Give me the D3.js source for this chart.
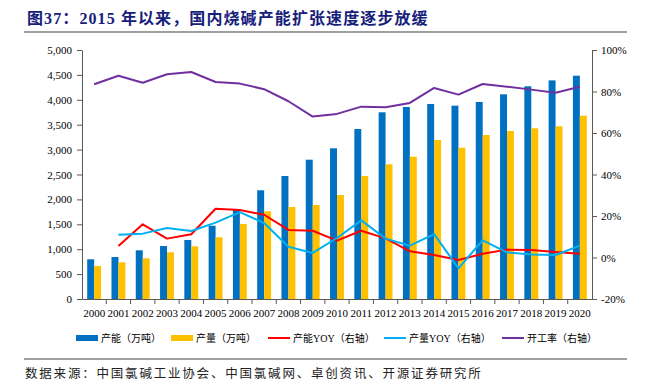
<!DOCTYPE html>
<html>
<head>
<meta charset="utf-8">
<script src="https://cdn.jsdelivr.net/npm/d3@7"></script>
<style>
  html, body { margin: 0; padding: 0; background: #fff; }
  svg { display: block; }
</style>
</head>
<body>
<svg id="chart" width="651" height="390"></svg>
<script>
const years = ["2000","2001","2002","2003","2004","2005","2006","2007","2008","2009","2010","2011","2012","2013","2014","2015","2016","2017","2018","2019","2020"];
const capacity = [797, 843, 978, 1064, 1185, 1472, 1787, 2183, 2470, 2797, 3026, 3414, 3749, 3855, 3916, 3882, 3956, 4110, 4271, 4390, 4484];
const production = [663, 737, 817, 938, 1058, 1239, 1506, 1761, 1847, 1888, 2088, 2470, 2705, 2857, 3193, 3038, 3293, 3373, 3428, 3468, 3681];
const capacityYoY = [null, 5.5, 16.0, 9.1, 11.2, 23.5, 22.9, 20.6, 13.3, 12.9, 8.1, 12.9, 9.2, 3.0, 1.2, -1.2, 1.8, 3.8, 3.6, 2.7, 1.8];
const productionYoY = [null, 11.0, 11.5, 14.2, 12.8, 16.8, 21.9, 16.6, 5.2, 2.2, 9.4, 17.9, 9.1, 5.7, 11.3, -5.2, 8.3, 2.5, 1.5, 1.2, 5.7];
const utilization = [83.5, 87.6, 84.2, 88.3, 89.4, 84.6, 83.8, 81.1, 75.3, 67.9, 69.2, 72.7, 72.4, 74.5, 81.7, 78.5, 83.6, 82.3, 80.9, 79.4, 82.3];
const leftTicks = [0, 500, 1000, 1500, 2000, 2500, 3000, 3500, 4000, 4500, 5000];
const rightTicks = [-20, 0, 20, 40, 60, 80, 100];
const legendLabels = ["产能（万吨）", "产量（万吨）", "产能YOY（右轴）", "产量YOY（右轴）", "开工率（右轴）"];
const titleText = "图37：2015 年以来，国内烧碱产能扩张速度逐步放缓";
const sourceText = "数据来源：中国氯碱工业协会、中国氯碱网、卓创资讯、开源证券研究所";

const colors = { cap: "#0070C0", prod: "#FFC000", capYoY: "#FF0000", prodYoY: "#00B0F0", util: "#7030A0" };
const numFont = "'Liberation Serif', 'Noto Sans CJK SC', serif";
const cjkFont = "'Liberation Serif', 'Noto Sans CJK SC', sans-serif";

const svg = d3.select("#chart");
const L = 82, R = 592, T = 50, B = 299;

// Title
svg.append("text").attr("x", 27).attr("y", 24)
  .attr("font-family", cjkFont).attr("font-weight", "bold").attr("font-size", 16)
  .attr("letter-spacing", 1.1)
  .attr("fill", "#16207a").text(titleText);
svg.append("line").attr("x1", 24).attr("x2", 627).attr("y1", 32).attr("y2", 32)
  .attr("stroke", "#7f7f7f").attr("stroke-width", 1.5);

// Scales
const x = d3.scaleBand().domain(years).range([L, R]).paddingInner(0).paddingOuter(0);
const bw = x.bandwidth();
const x1 = d3.scaleBand().domain(["cap","prod"]).range([5.2, bw - 5.2]).padding(0);
const yL = d3.scaleLinear().domain([0, 5000]).range([B, T]);
const yR = d3.scaleLinear().domain([-20, 100]).range([B, T]);

// Bars
const g = svg.append("g");
g.selectAll("rect.cap").data(years).join("rect").attr("class","cap")
  .attr("x", d => x(d) + x1("cap")).attr("width", x1.bandwidth())
  .attr("y", (d,i) => yL(capacity[i])).attr("height", (d,i) => yL(0) - yL(capacity[i]))
  .attr("fill", colors.cap);
g.selectAll("rect.prod").data(years).join("rect").attr("class","prod")
  .attr("x", d => x(d) + x1("prod")).attr("width", x1.bandwidth())
  .attr("y", (d,i) => yL(production[i])).attr("height", (d,i) => yL(0) - yL(production[i]))
  .attr("fill", colors.prod);

// Lines
function drawLine(arr, color) {
  const line = d3.line()
    .defined(d => d[1] !== null)
    .x(d => x(d[0]) + bw / 2)
    .y(d => yR(d[1]));
  g.append("path").datum(years.map((y, i) => [y, arr[i]]))
    .attr("d", line).attr("fill", "none").attr("stroke", color)
    .attr("stroke-width", 2).attr("stroke-linejoin", "round");
}
drawLine(utilization, colors.util);
drawLine(capacityYoY, colors.capYoY);
drawLine(productionYoY, colors.prodYoY);

// Axes
const axisColor = "#595959";
const axL = svg.append("g").attr("transform", `translate(${L},0)`)
  .call(d3.axisLeft(yL).tickValues(leftTicks).tickFormat(d3.format(",")).tickSize(5).tickSizeOuter(0));
const axR = svg.append("g").attr("transform", `translate(${R},0)`)
  .call(d3.axisRight(yR).tickValues(rightTicks).tickFormat(d => d + "%").tickSize(5).tickSizeOuter(0));
const axB = svg.append("g").attr("transform", `translate(0,${B})`)
  .call(d3.axisBottom(x).tickSize(0).tickSizeOuter(0));
// x tick marks at band boundaries
svg.append("g").selectAll("line").data(years.slice(1)).join("line")
  .attr("x1", d => x(d)).attr("x2", d => x(d)).attr("y1", B).attr("y2", B + 5)
  .attr("stroke", axisColor);

[axL, axR, axB].forEach(a => {
  a.selectAll("path.domain").attr("stroke", axisColor);
  a.selectAll(".tick line").attr("stroke", axisColor);
  a.selectAll("text").attr("font-family", numFont).attr("font-size", 11).attr("fill", "#000");
});
axL.selectAll("text").attr("x", -10);
axR.selectAll("text").attr("x", 9);
axB.selectAll("text").attr("dy", "0").attr("y", 18);

// Legend
const legendY = 338;
const legendItems = [
  { label: legendLabels[0], color: colors.cap, type: "bar", x: 76 },
  { label: legendLabels[1], color: colors.prod, type: "bar", x: 171 },
  { label: legendLabels[2], color: colors.capYoY, type: "line", x: 268 },
  { label: legendLabels[3], color: colors.prodYoY, type: "line", x: 384 },
  { label: legendLabels[4], color: colors.util, type: "line", x: 502 }
];
const lg = svg.append("g");
legendItems.forEach(it => {
  if (it.type === "bar") {
    lg.append("rect").attr("x", it.x).attr("y", legendY - 3).attr("width", 22).attr("height", 6).attr("fill", it.color);
  } else {
    lg.append("line").attr("x1", it.x).attr("x2", it.x + 22).attr("y1", legendY).attr("y2", legendY)
      .attr("stroke", it.color).attr("stroke-width", 2);
  }
  lg.append("text").attr("x", it.x + 25).attr("y", legendY + 4)
    .attr("font-family", cjkFont).attr("font-size", 10).attr("fill", "#000").text(it.label);
});

// Footer
svg.append("line").attr("x1", 24).attr("x2", 627).attr("y1", 359).attr("y2", 359)
  .attr("stroke", "#7f7f7f").attr("stroke-width", 1.5);
svg.append("text").attr("x", 25).attr("y", 378)
  .attr("font-family", cjkFont).attr("font-size", 12.5).attr("letter-spacing", 1.8)
  .attr("fill", "#222").text(sourceText);
</script>
</body>
</html>
